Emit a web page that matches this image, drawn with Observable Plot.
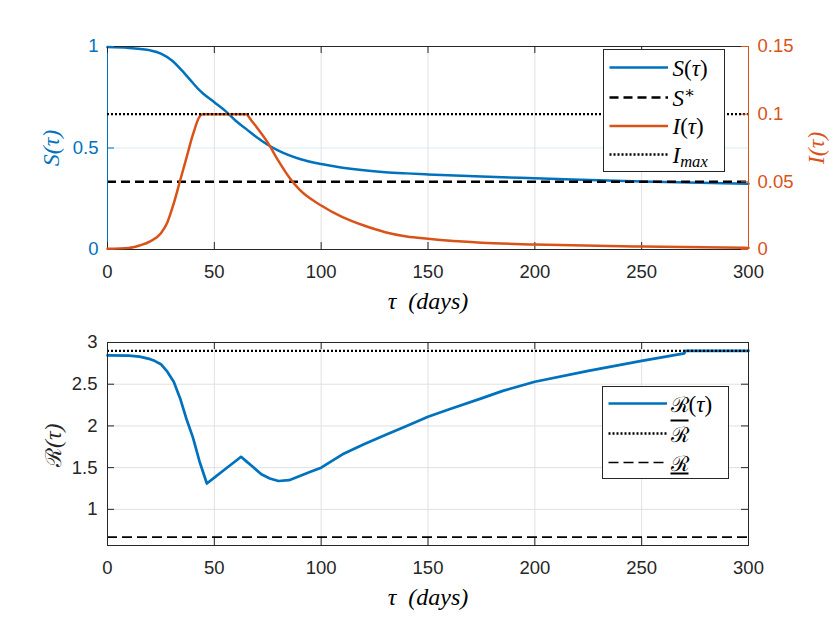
<!DOCTYPE html>
<html><head><meta charset="utf-8">
<script src="https://cdn.jsdelivr.net/npm/d3@7"></script>
<script src="https://cdn.jsdelivr.net/npm/@observablehq/plot@0.6"></script>
<style>
body{margin:0;background:#fff}
#fig{position:relative;width:830px;height:623px;background:#fff;overflow:hidden}
.pw{position:absolute;left:0}
.leg{position:absolute;background:#fff;border:1px solid #262626;box-sizing:border-box;font-family:"Liberation Serif","DejaVu Serif",serif;font-size:23px;color:#000}
.leg svg{position:absolute;left:0;top:0}
.leg .lab{position:absolute;line-height:1;transform:translateY(-50%);white-space:nowrap}
.leg sub{font-size:0.72em;vertical-align:-0.25em;line-height:0}
.leg sup{font-size:0.72em;vertical-align:0.45em;line-height:0}
.leg .cal{font-family:"DejaVu Serif",serif;font-style:normal;font-size:0.92em}
</style></head><body><div id="fig"></div>
<script>
// ---- data ----
const xTicks = [0, 50, 100, 150, 200, 250, 300];
const sTicks = [0, 0.5, 1];
const iTicks = [0, 0.05, 0.1, 0.15];
const rTicks = [1, 1.5, 2, 2.5, 3];

const days_S = [0, 10, 20, 25, 30, 35, 40, 43, 45, 50, 55, 60, 65, 70, 75, 80, 90, 100, 110, 120, 130, 140, 150, 175, 200, 250, 300];
const S_vals = [0.997, 0.993, 0.981, 0.965, 0.932, 0.88, 0.82, 0.785, 0.766, 0.725, 0.684, 0.634, 0.593, 0.552, 0.516, 0.487, 0.446, 0.421, 0.403, 0.390, 0.381, 0.375, 0.370, 0.359, 0.351, 0.335, 0.324];

const days_I = [0, 10, 15, 20, 25, 28, 31, 34, 37, 40, 43, 44.5, 65, 67, 70, 75, 80, 85, 90, 100, 110, 120, 130, 140, 150, 175, 200, 250, 300];
const I_vals = [0.0005, 0.0012, 0.003, 0.006, 0.012, 0.02, 0.034, 0.051, 0.068, 0.085, 0.098, 0.1, 0.1, 0.096, 0.090, 0.079, 0.0655, 0.0534, 0.044, 0.0325, 0.0239, 0.0177, 0.0128, 0.0096, 0.0079, 0.005, 0.0037, 0.0022, 0.0012];

const days_R = [0, 10, 15, 20, 22, 25, 28, 31, 34, 37, 40, 43, 46.5, 50, 55, 60, 62.5, 65, 68, 72, 76, 80, 85, 90, 95, 100, 110, 120, 130, 140, 150, 160, 175, 185, 200, 225, 250, 270, 270.5, 300];
const R_vals = [2.845, 2.842, 2.83, 2.80, 2.78, 2.74, 2.65, 2.53, 2.33, 2.08, 1.86, 1.58, 1.31, 1.38, 1.48, 1.58, 1.63, 1.575, 1.51, 1.42, 1.37, 1.34, 1.35, 1.40, 1.45, 1.50, 1.66, 1.78, 1.89, 2.00, 2.11, 2.20, 2.33, 2.42, 2.53, 2.66, 2.78, 2.87, 2.90, 2.90];

const S_star = 1 / 3;
const I_max = 0.1;
const R_bar = 2.9;
const R_under = 2 / 3;
const R_min_axis = 0.5667;

// ---- styling ----
const blue = "#0072BD", orange = "#D95319", ink = "#262626";
const gridBlue = "#d9eaf5", gridGray = "#e0e0e0";
const serif = "Liberation Serif, DejaVu Serif, serif";
const W = 830, H = 320, mL = 107, mR = 82, mT = 46, mB = 71;
const innerW = W - mL - mR, innerH = H - mT - mB, tk = 7;
const fmt = d => String(d);

const Sdata = days_S.map((t, i) => ({t, v: S_vals[i]}));
const Idata = days_I.map((t, i) => ({t, v: I_vals[i]}));
const Rdata = days_R.map((t, i) => ({t, v: R_vals[i]}));

const base = {
  width: W, height: H, marginLeft: mL, marginRight: mR, marginTop: mT, marginBottom: mB,
  style: {background: "transparent", fontFamily: "Liberation Sans, Arial, sans-serif", fontSize: "18.5px", overflow: "visible"}
};
const lab = {fontFamily: serif, fontStyle: "italic", fontSize: 24, textAnchor: "middle", lineAnchor: "middle"};
const xLabel = "τ\u00a0\u00a0(days)";

const fig = document.getElementById("fig");
function place(svg, top) {
  const d = document.createElement("div");
  d.className = "pw"; d.style.top = top + "px";
  d.appendChild(svg); fig.appendChild(d);
}

// ---- top: S(tau) on left axis ----
const topS = Plot.plot({
  ...base,
  x: {domain: [0, 300], label: null},
  y: {domain: [0, 1], label: null},
  marks: [
    Plot.ruleY(sTicks, {y: d => d, stroke: gridBlue}),
    Plot.ruleX(xTicks, {x: d => d, stroke: gridGray}),
    Plot.line(Sdata, {x: "t", y: "v", stroke: blue, strokeWidth: 2.5, curve: "monotone-x"}),
    Plot.ruleY([S_star], {y: d => d, stroke: "#000", strokeWidth: 2.5, strokeDasharray: "9,5"}),
    Plot.ruleY([0, 1], {y: d => d, stroke: ink}),
    Plot.ruleX([0], {x: d => d, stroke: blue}),
    Plot.tickX(xTicks, {x: d => d, insetTop: innerH - tk, stroke: ink}),
    Plot.tickX(xTicks, {x: d => d, insetBottom: innerH - tk, stroke: ink}),
    Plot.tickY(sTicks, {y: d => d, insetRight: innerW - tk, stroke: blue}),
    Plot.axisX({ticks: xTicks, tickSize: 0, tickPadding: 15.5, label: null, color: ink, tickFormat: fmt}),
    Plot.axisY({ticks: sTicks, anchor: "left", tickSize: 0, tickPadding: 9, label: null, color: blue, tickFormat: fmt}),
    Plot.text([xLabel], {...lab, frameAnchor: "bottom", dy: 52, fill: "#000"}),
    Plot.text(["S(τ)"], {...lab, frameAnchor: "left", dx: -56, rotate: -90, fill: blue})
  ]
});
place(topS, 0);

// ---- top: I(tau) on right axis (overlay) ----
const topI = Plot.plot({
  ...base,
  x: {domain: [0, 300], axis: null, label: null},
  y: {domain: [0, 0.15], label: null},
  marks: [
    Plot.line(Idata, {x: "t", y: "v", stroke: orange, strokeWidth: 2.5, curve: "monotone-x"}),
    Plot.ruleY([I_max], {y: d => d, stroke: "#000", strokeWidth: 2.3, strokeDasharray: "2,2"}),
    Plot.ruleX([300], {x: d => d, stroke: orange}),
    Plot.tickY(iTicks, {y: d => d, insetLeft: innerW - tk, stroke: orange}),
    Plot.axisY({ticks: iTicks, anchor: "right", tickSize: 0, tickPadding: 9, label: null, color: orange, tickFormat: fmt}),
    Plot.text(["I(τ)"], {...lab, frameAnchor: "right", dx: 68, rotate: -90, fill: orange})
  ]
});
place(topI, 0);

// ---- bottom: R(tau) ----
const bot = Plot.plot({
  ...base,
  x: {domain: [0, 300], label: null},
  y: {domain: [R_min_axis, 3], label: null},
  marks: [
    Plot.ruleY(rTicks, {y: d => d, stroke: gridGray}),
    Plot.ruleX(xTicks, {x: d => d, stroke: gridGray}),
    Plot.line(Rdata, {x: "t", y: "v", stroke: blue, strokeWidth: 2.7}),
    Plot.ruleY([R_bar], {y: d => d, stroke: "#000", strokeWidth: 2.3, strokeDasharray: "2,2"}),
    Plot.ruleY([R_under], {y: d => d, stroke: "#000", strokeWidth: 1.7, strokeDasharray: "10,5"}),
    Plot.frame({stroke: ink}),
    Plot.tickX(xTicks, {x: d => d, insetTop: innerH - tk, stroke: ink}),
    Plot.tickX(xTicks, {x: d => d, insetBottom: innerH - tk, stroke: ink}),
    Plot.tickY(rTicks, {y: d => d, insetRight: innerW - tk, stroke: ink}),
    Plot.tickY(rTicks, {y: d => d, insetLeft: innerW - tk, stroke: ink}),
    Plot.axisX({ticks: xTicks, tickSize: 0, tickPadding: 15.5, label: null, color: ink, tickFormat: fmt}),
    Plot.axisY({ticks: rTicks, anchor: "left", tickSize: 0, tickPadding: 10, label: null, color: ink, tickFormat: fmt}),
    Plot.text([xLabel], {...lab, frameAnchor: "bottom", dy: 52, fill: "#000"}),
    Plot.text(["ℛ"], {...lab, fontFamily: "DejaVu Serif, serif", fontStyle: "normal", fontSize: 22, textAnchor: "end", frameAnchor: "left", dx: -54, dy: 4, rotate: -90, fill: ink}),
    Plot.text(["(τ)"], {...lab, textAnchor: "start", frameAnchor: "left", dx: -54, dy: 4, rotate: -90, fill: ink})
  ]
});
place(bot, 295.6);

// ---- legends ----
function legend(box, rows) {
  const d = document.createElement("div");
  d.className = "leg";
  Object.assign(d.style, {left: box.left + "px", top: box.top + "px", width: box.w + "px", height: box.h + "px"});
  let svg = `<svg width="${box.w}" height="${box.h}">`;
  rows.forEach(r => {
    svg += `<line x1="${box.x1}" x2="${box.x2}" y1="${r.y}" y2="${r.y}" stroke="${r.stroke}" stroke-width="${r.sw}" ${r.dash ? `stroke-dasharray="${r.dash}"` : ""}/>`;
  });
  svg += `</svg>`;
  d.innerHTML = svg + rows.map(r => `<span class="lab" style="left:${box.tx}px;top:${r.y}px">${r.html}</span>`).join("");
  fig.appendChild(d);
}

legend({left: 602.5, top: 49, w: 122.5, h: 122.5, x1: 5.5, x2: 64, tx: 69},
  [
    {y: 17.5, stroke: blue, sw: 2.5, html: "<i>S</i>(<i>τ</i>)"},
    {y: 47.5, stroke: "#000", sw: 2.5, dash: "9,5", html: "<i>S</i><sup>∗</sup>"},
    {y: 76, stroke: orange, sw: 2.5, html: "<i>I</i>(<i>τ</i>)"},
    {y: 104.5, stroke: "#000", sw: 2.3, dash: "2,2", html: "<i>I</i><sub><i>max</i></sub>"}
  ]);

legend({left: 601.5, top: 386, w: 127, h: 93, x1: 5.5, x2: 64, tx: 68},
  [
    {y: 16.5, stroke: blue, sw: 2.5, html: "<span class='cal'>ℛ</span>(<i>τ</i>)"},
    {y: 46.5, stroke: "#000", sw: 2.3, dash: "2,2", html: "<span class='cal' style='text-decoration:overline'>ℛ</span>"},
    {y: 75.5, stroke: "#000", sw: 1.7, dash: "10,5", html: "<span class='cal' style='text-decoration:underline'>ℛ</span>"}
  ]);
</script>
</body></html>
